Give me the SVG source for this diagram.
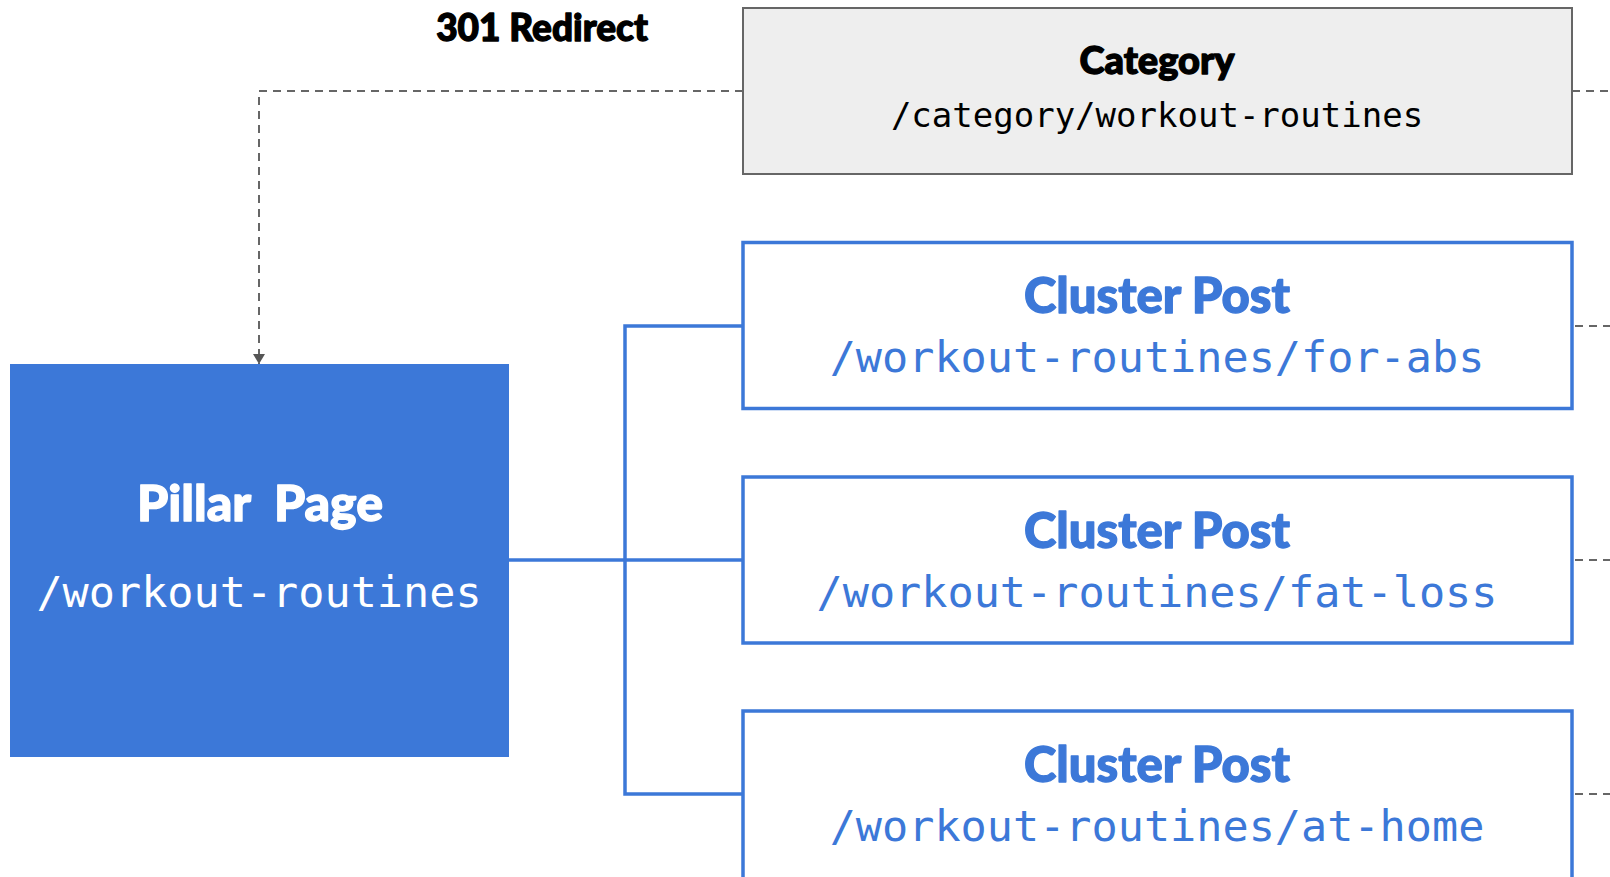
<svg xmlns="http://www.w3.org/2000/svg" width="1610" height="877" viewBox="0 0 1610 877">
  <defs>
    <style>
      .title { font-family: Lato, "Liberation Sans", sans-serif; font-weight: 900; text-anchor: middle; letter-spacing: 0; stroke-width: 1.3px; stroke-linejoin: round; }
      .path { font-family: "DejaVu Sans Mono", "Liberation Mono", monospace; text-anchor: middle; }
      .tree { fill: none; stroke: #3c78d8; stroke-width: 3.5; }
      .dash { fill: none; stroke: #666666; stroke-width: 2; stroke-dasharray: 8 6; }
      .cluster rect { fill: #ffffff; stroke: #3c78d8; stroke-width: 3.5; }
      .cluster .title { fill: #3c78d8; stroke: #3c78d8; font-size: 49px; }
      .cluster .path { fill: #3c78d8; font-size: 43.5px; }
    </style>
    <marker id="arrow" viewBox="0 0 10 12" refX="10" refY="6" markerWidth="10" markerHeight="12" markerUnits="userSpaceOnUse" orient="auto">
      <path d="M0,0 L10,6 L0,12 Z" fill="#555555"/>
    </marker>
  </defs>

  <rect width="1610" height="877" fill="#ffffff"/>

  <!-- connectors -->
  <g id="connectors">
    <!-- redirect from category to pillar -->
    <path class="dash" d="M743,91 H259 V364" marker-end="url(#arrow)"/>
    <!-- outgoing stubs on the right -->
    <path class="dash" d="M1572,91 H1610"/>
    <path class="dash" d="M1575,326 H1610"/>
    <path class="dash" d="M1575,560 H1610"/>
    <path class="dash" d="M1575,794 H1610"/>
    <!-- pillar to cluster tree -->
    <path class="tree" d="M509,560 H743"/>
    <path class="tree" d="M743,326 H625 V794 H743"/>
  </g>

  <text id="redirect-label" class="title" x="542" y="41" font-size="37" fill="#000000" stroke="#000000">301 Redirect</text>

  <g id="category">
    <rect x="743" y="8" width="829" height="166" fill="#eeeeee" stroke="#666666" stroke-width="2"/>
    <text class="title" x="1157" y="74" font-size="38" fill="#000000" stroke="#000000">Category</text>
    <text class="path" x="1157" y="127" font-size="34" fill="#000000">/category/workout-routines</text>
  </g>

  <g id="pillar">
    <rect x="10" y="364" width="499" height="393" fill="#3c78d8"/>
    <text class="title" x="260" y="521" font-size="50" fill="#ffffff" stroke="#ffffff" xml:space="preserve">Pillar  Page</text>
    <text class="path" x="259" y="607" font-size="43.5" fill="#ffffff">/workout-routines</text>
  </g>

  <g id="cluster-abs" class="cluster">
    <rect x="743" y="242.5" width="829" height="166"/>
    <text class="title" x="1157" y="313">Cluster Post</text>
    <text class="path" x="1157" y="372">/workout-routines/for-abs</text>
  </g>

  <g id="cluster-fat-loss" class="cluster">
    <rect x="743" y="477" width="829" height="166"/>
    <text class="title" x="1157" y="548">Cluster Post</text>
    <text class="path" x="1157" y="607">/workout-routines/fat-loss</text>
  </g>

  <g id="cluster-at-home" class="cluster">
    <rect x="743" y="711" width="829" height="170"/>
    <text class="title" x="1157" y="782">Cluster Post</text>
    <text class="path" x="1157" y="841">/workout-routines/at-home</text>
  </g>
</svg>
